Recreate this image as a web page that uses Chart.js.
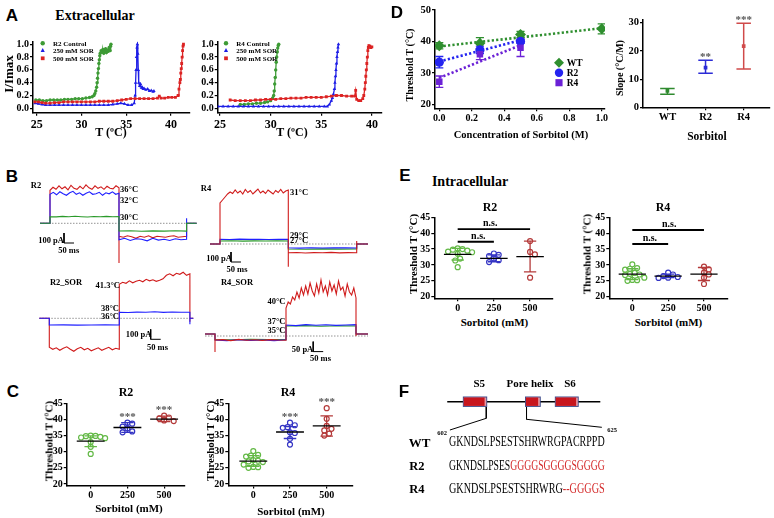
<!DOCTYPE html>
<html><head><meta charset="utf-8">
<script src="https://cdn.jsdelivr.net/npm/chart.js@4.4.1/dist/chart.umd.min.js"></script>
<style>
html,body{margin:0;padding:0;background:#fff;}
body{width:774px;height:518px;position:relative;overflow:hidden;}
canvas{position:absolute;}
.t{position:absolute;white-space:nowrap;color:#000;}
</style></head><body>
<script>
// ================= DATA =================
// Panel A – I/Imax vs T (°C)
const a1CtrlT = [24.9,25.3,25.7,26.1,26.5,26.9,27.3,27.7,28.1,28.5,28.9,29.3,29.7,30.1,30.5,30.9,31.2,31.4,31.5,31.6,31.7,31.75,31.8,31.85,31.9,31.95,32.0,32.05,32.1,32.2,32.3,32.4,32.5,32.6,32.7,32.8,32.9,33.0,33.1,33.2,33.25,33.3];
const a1CtrlI = [0.13,0.13,0.12,0.12,0.13,0.13,0.13,0.13,0.14,0.14,0.14,0.15,0.15,0.15,0.16,0.17,0.18,0.20,0.23,0.27,0.33,0.40,0.47,0.55,0.62,0.70,0.76,0.82,0.86,0.90,0.88,0.92,0.86,0.90,0.93,0.87,0.91,0.89,0.95,0.90,0.97,1.00];
const a1S250T = [24.8,25.2,25.6,26.0,26.5,27.0,27.5,28.0,28.5,29.0,29.5,30.0,30.5,31.0,31.5,32.0,32.5,33.0,33.5,34.0,34.4,34.8,35.2,35.6,35.9,36.0,36.05,36.1,36.15,36.2,36.25,36.3,36.35,36.4,36.5,36.6,36.7,36.8,36.9,37.0,37.2,37.4,37.6,37.8,38.0,38.1];
const a1S250I = [0.08,0.07,0.06,0.05,0.05,0.05,0.05,0.05,0.05,0.05,0.05,0.05,0.05,0.05,0.05,0.05,0.05,0.05,0.06,0.07,0.08,0.07,0.05,0.05,0.08,0.20,0.40,0.60,0.80,0.95,1.00,0.85,0.60,0.40,0.35,0.38,0.32,0.33,0.30,0.31,0.29,0.30,0.27,0.28,0.26,0.27];
const a1S500T = [24.8,25.2,25.6,26.0,26.5,27.0,27.5,28.0,28.5,29.0,29.5,30.0,30.5,31.0,31.5,32.0,32.5,33.0,33.5,34.0,34.5,35.0,35.5,36.0,36.5,37.0,37.5,38.0,38.5,38.7,38.9,39.3,39.7,40.1,40.5,40.8,40.9,41.0,41.05,41.1,41.15,41.2,41.25,41.3,41.35,41.4];
const a1S500I = [0.10,0.10,0.09,0.08,0.08,0.09,0.09,0.10,0.10,0.10,0.10,0.10,0.10,0.10,0.10,0.11,0.11,0.11,0.11,0.12,0.13,0.14,0.15,0.15,0.15,0.15,0.15,0.15,0.16,0.19,0.16,0.16,0.17,0.17,0.17,0.20,0.30,0.40,0.45,0.55,0.62,0.70,0.80,0.90,0.97,1.00];
const a2CtrlT = [27.0,27.4,27.8,28.2,28.6,29.0,29.4,29.7,30.0,30.2,30.3,30.35,30.4,30.45,30.5,30.55,30.6,30.65,30.7,30.75,30.8];
const a2CtrlI = [0.06,0.06,0.07,0.07,0.08,0.08,0.09,0.10,0.12,0.16,0.20,0.27,0.38,0.48,0.60,0.72,0.80,0.88,0.94,0.98,1.00];
const a2S250T = [24.8,25.3,25.8,26.3,26.8,27.3,27.8,28.3,28.8,29.3,29.8,30.3,30.8,31.3,31.8,32.3,32.8,33.3,33.8,34.3,34.8,35.3,35.6,35.8,36.0,36.1,36.2,36.3,36.35,36.4,36.45,36.5,36.55,36.6,36.65,36.7];
const a2S250I = [0.03,0.03,0.03,0.03,0.03,0.03,0.03,0.03,0.03,0.03,0.03,0.03,0.03,0.03,0.03,0.03,0.03,0.03,0.03,0.03,0.03,0.03,0.03,0.06,0.12,0.16,0.22,0.30,0.40,0.50,0.60,0.70,0.80,0.88,0.95,1.00];
const a2S500T = [26.0,26.5,27.0,27.5,28.0,28.5,29.0,29.5,30.0,30.5,31.0,31.5,32.0,32.5,33.0,33.5,34.0,34.5,35.0,35.5,36.0,36.5,37.0,37.5,38.0,38.3,38.4,38.5,38.7,38.9,39.1,39.2,39.3,39.35,39.4,39.45,39.5,39.55,39.6,39.65,39.7,39.8,39.9,40.0];
const a2S500I = [0.13,0.12,0.12,0.12,0.12,0.13,0.13,0.14,0.14,0.14,0.15,0.15,0.16,0.16,0.16,0.17,0.17,0.17,0.17,0.18,0.19,0.20,0.20,0.19,0.19,0.19,0.28,0.14,0.12,0.12,0.15,0.20,0.30,0.40,0.50,0.60,0.70,0.80,0.90,0.95,0.98,0.97,0.95,0.96];
const aLegendLeft = ['R2 Control','250 mM SOR','500 mM SOR'];
const aLegendRight = ['R4 Control','250 mM SOR','500 mM SOR'];
const aXTicks = [25,30,35,40];
const aYTicks = [0,0.2,0.4,0.6,0.8,1.0];

// Panel B – current traces (time ms, current pA); segments: pre, pulse 1, pulse 2, post
const bR2Edges = [-50,0,345,683,733];
const bR2Red = [[0,0],[330,360,340,375,345,365,335,380,350,340,370,345,385,355,340,375,350,365,340,370,350,345,375,355],[-130,-140,-125,-135,-150,-130,-140,-125,-145,-130,-135,-140,-130,-125,-140,-135,-130],[0,0]];
const bR2RedSpk = [null,null,-397,null];
const bR2Blue = [[0,0],[290,310,285,315,295,280,305,320,290,305,280,300,315,290,295,310,280,305,295,315,290,300],[-165,-150,-172,-155,-160,-175,-150,-168,-160,-172,-155,-165,-160],[0,0]];
const bR2BlueSpk = [null,null,null,50];
const bR2Green = [[0,0],[66,64,69,65,70,66,63,68,66,69,65,67],[-77,-75,-79,-76,-78,-75,-78],[0,0]];
const bR4Edges = [-50,0,341.5,683.5,740];
const bR4Red = [[0,0],[410,440,470,500,520,505,540,510,530,500,545,515,535,500,525,550,510,530,505,540,520,500,535,515,545,510,530,540],[-87,-85,-90,-86,-88,-84,-89,-86,-87],[0,0]];
const bR4RedSpk = [null,null,-227,30];
const bR4Blue = [[0,0],[47,45,49,46,48,45,48,46],[-38,-41,-37,-40,-39,-38,-40],[0,0]];
const bR4Green = [[0,0],[30,32,29,31,30,32,30],[-50,-52,-49,-51,-50],[0,0]];
const bR2sEdges = [-50,0,350,703,720];
const bR2sRed = [[0,0],[-290,-310,-295,-320,-300,-285,-310,-330,-305,-290,-315,-300,-325,-310,-295,-320,-305,-290,-315,-300,-310],[340,360,350,375,355,370,380,365,390,375,385,370,380,395,430,445,425,450,440,460,430,445],[0,0]];
const bR2sRedSpk = [null,null,null,-34];
const bR2sBlue = [[0,0],[-67,-66,-68,-67,-66,-67],[60,58,62,60,65,59,63,61,60],[0,0]];
const bR2sBlueSpk = [null,null,null,-60];
const bR4sEdges = [-50,0,355,705,765];
const bR4sRed = [[0,0],[-30,-28,-33,-27,-31,-29,-32,-28,-30,-31],[130,160,150,185,170,210,180,230,195,240,200,255,215,190,250,205,270,210,240,195,260,215,245,200,265,220,235,190,250,210,195,230,180],[0,0]];
const bR4sRedSpk = [null,-90,null,-10];
const bR4sBlue = [[0,0],[-30,-33,-29,-32,-30,-33,-29],[45,42,47,44,46,43,45,47],[0,0]];
const bR4sGreen = [[0,0],[-28,-29,-27,-28,-28],[40,42,39,41,40],[0,0]];

// Panel C – extracellular threshold T (°C)
const sorbCats = ['0','250','500'];
const cR2_0 = [35.0,34.8,34.6,34.4,34.9,34.2,33.0,31.5,29.3];
const cR2_250 = [39.0,38.7,37.8,37.2,36.3,36.0];
const cR2_500 = [41.2,40.6,40.3,39.7,39.5];
const cR2Mean = [33.3,37.5,40.1], cR2Lo = [31.6,36.0,39.3], cR2Hi = [34.9,39.0,41.0];
const cR4_0 = [30.2,29.0,28.8,28.5,27.4,27.2,27.0,26.8,26.0,25.3,25.0,25.2];
const cR4_250 = [39.0,38.2,37.6,37.4,36.0,35.8,34.0,32.2];
const cR4_500 = [43.5,40.2,38.0,37.1,36.6,35.6,35.0];
const cR4Mean = [27.1,36.1,38.0], cR4Lo = [25.5,34.1,34.8], cR4Hi = [28.8,37.8,41.1];
const cStars = ['','***','***'];
const thrTicks = [20,25,30,35,40,45];

// Panel D – threshold vs sorbitol concentration, slopes
const dConc = [0,0.25,0.5,1.0];
const dWT = [38.6,39.4,42.2,44.0], dWTErr = [1.0,1.8,1.0,1.6];
const dR2 = [33.4,37.3,40.0], dR2Err = [1.8,1.2,0.6];
const dR4 = [27.2,35.9,38.0], dR4Err = [1.8,1.7,2.8];
const dFitIntercept = [38.4,33.6,28.4], dFitSlope = [5.8,13.6,20.8], dFitEnd = [1.0,0.5,0.5];
const dLegend = ['WT','R2','R4'];
const dXTicks = [0,0.2,0.4,0.6,0.8,1.0], dYTicks = [20,30,40,50];
const slopeCats = ['WT','R2','R4'];
const slopeMean = [5.8,14.1,21.7], slopeLo = [4.6,12.1,13.6], slopeHi = [6.7,16.7,29.8];
const slopeStars = ['','**','***'];
const slopeTicks = [0,10,20,30];

// Panel E – intracellular threshold T (°C)
const eR2_0 = [35.2,35.0,34.8,34.5,34.2,34.0,33.5,32.0,31.4,29.3];
const eR2_250 = [33.6,33.2,32.8,32.0,31.5,30.9];
const eR2_500 = [37.5,34.1,33.3,26.0];
const eR2Mean = [33.35,32.1,32.6], eR2Lo = [31.55,31.0,27.8], eR2Hi = [35.2,33.2,37.5];
const eR4_0 = [30.2,29.0,28.8,28.5,27.5,27.2,27.0,26.8,26.0,25.3,25.0,25.2];
const eR4_250 = [27.6,27.0,26.5,26.2,25.9,26.0];
const eR4_500 = [29.5,28.6,27.6,27.0,26.0,24.0];
const eR4Mean = [27.1,26.5,27.1], eR4Lo = [25.4,26.0,25.1], eR4Hi = [28.8,27.1,29.2];
// n.s. comparisons: [from group, to group, bar level]
const eR2Ns = [[0,2,41.3],[0,1,37.3]];
const eR4Ns = [[0,2,41.0],[0,1,36.6]];

// Panel F – schematic (arbitrary units along sequence)
const fBackbone = [0,100];
const fDomains = [[10.8,25.5],[51.4,60.5],[70.9,85.3]];
const fDomainNames = ['S5','Pore helix','S6'];
const fLink1U = [25.5,25.5,1.75], fLink1V = [5.3,16.6,28.3];
const fLink2U = [51.8,51.8,101], fLink2V = [5.3,17.6,25.6];
const seqWT = [['GKNDSLPSESTSHRWRGPACRPPD','#000']];
const seqR2 = [['GKNDSLPSES','#000'],['GGGGSGGGGSGGGG','#d42a2a']];
const seqR4 = [['GKNDSLPSESTSHRWRG','#000'],['--GGGGS','#d42a2a']];

// ================= HELPERS =================
const SERIF = "'Liberation Serif','Times New Roman',serif";
const SANS = "'Liberation Sans',Arial,sans-serif";
Chart.defaults.animation = false;
Chart.defaults.font.family = SERIF;
Chart.defaults.font.weight = 'bold';
Chart.defaults.color = '#000';
Chart.defaults.events = [];

const zip = (xs, ys) => xs.slice(0, Math.min(xs.length, ys.length)).map((x, i) => ({x, y: ys[i]}));

function marker(ctx, style, x, y, r, color){
  ctx.fillStyle = color; ctx.beginPath();
  if (style === 'circle') ctx.arc(x, y, r, 0, Math.PI*2);
  else if (style === 'triangle'){ ctx.moveTo(x, y-r); ctx.lineTo(x+r*0.95, y+r*0.75); ctx.lineTo(x-r*0.95, y+r*0.75); ctx.closePath(); }
  else if (style === 'rect') ctx.rect(x-r*0.85, y-r*0.85, r*1.7, r*1.7);
  else { ctx.moveTo(x, y-r); ctx.lineTo(x+r, y); ctx.lineTo(x, y+r); ctx.lineTo(x-r, y); ctx.closePath(); }
  ctx.fill();
}
const legendPlugin = { id:'mleg', afterDraw(chart, args, o){
  if (!o || !o.items) return;
  const ctx = chart.ctx, ox = parseFloat(chart.canvas.style.left), oy = parseFloat(chart.canvas.style.top);
  ctx.save();
  o.items.forEach(it => {
    marker(ctx, it.style, it.mx-ox, it.y-oy, it.r, it.color);
    ctx.font = o.font; ctx.fillStyle = '#000'; ctx.textAlign = 'left'; ctx.textBaseline = 'middle';
    ctx.fillText(it.text, it.tx-ox, it.y-oy+0.5);
  });
  ctx.restore();
}};
const txtPlugin = { id:'txt', afterDatasetsDraw(chart, args, o){
  if (!o || !o.items) return;
  const ctx = chart.ctx; ctx.save();
  o.items.forEach(it => {
    ctx.font = it.font; ctx.fillStyle = it.color || '#000'; ctx.textAlign = 'center'; ctx.textBaseline = 'middle';
    ctx.fillText(it.text, chart.scales.x.getPixelForValue(it.x), chart.scales.y.getPixelForValue(it.y) + (it.dy||0));
  });
  ctx.restore();
}};
Chart.register(legendPlugin, txtPlugin);

function txt(s, x, y, o = {}){
  const d = document.createElement('div'); d.className = 't'; d.textContent = s;
  d.style.font = `${o.bold === false ? '' : 'bold '}${o.size || 11}px ${o.fam || SERIF}`;
  d.style.lineHeight = '1';
  d.style.left = x + 'px'; d.style.top = y + 'px';
  const ax = {c:'-50%', l:'0%', r:'-100%'}[o.a || 'c'];
  d.style.transform = `translate(${ax},-50%)` + (o.rot ? ` rotate(${o.rot}deg)` : '');
  if (o.color) d.style.color = o.color;
  document.body.appendChild(d);
}
function seq(x, y, w, parts, size){
  const d = document.createElement('div'); d.className = 't';
  d.style.font = `${size}px ${SERIF}`; d.style.lineHeight = '1';
  parts.forEach(([s, c]) => { const sp = document.createElement('span'); sp.textContent = s; sp.style.color = c; d.appendChild(sp); });
  d.style.left = x + 'px'; d.style.top = y + 'px';
  document.body.appendChild(d);
  const nat = d.getBoundingClientRect().width;
  d.style.transformOrigin = '0 0';
  d.style.transform = `translateY(-50%) scaleX(${w / nat})`;
}

function axis(pos, min, max, ticks, o = {}){
  return {
    type:'linear', position:pos, min, max, display: o.display !== false, reverse: !!o.reverse,
    afterBuildTicks: s => { s.ticks = ticks.map(v => ({value:v})); },
    grid:{display:true, drawOnChartArea:false, drawTicks:true, tickLength:o.tl || 3, color:'#000', lineWidth:1.2},
    border:{display:true, color:'#000', width:1.5},
    ticks:{color:'#000', font:{family:SERIF, weight:'bold', size:o.font || 10}, padding:o.pad == null ? 1 : o.pad, autoSkip:false, maxRotation:0, callback: o.cb || (v => v)}
  };
}
function makeChart(box, m, xAx, yAx, datasets, plugins = {}){
  const left = Math.floor(box.x - m.l), top = Math.floor(box.y - m.t);
  const right = Math.ceil(box.x + box.w + m.r), bottom = Math.ceil(box.y + box.h + m.b);
  const W = right - left, H = bottom - top;
  const L = box.x - left, T = box.y - top, R = right - (box.x + box.w), B = bottom - (box.y + box.h);
  const c = document.createElement('canvas'); c.width = W; c.height = H;
  Object.assign(c.style, {left:left+'px', top:top+'px', width:W+'px', height:H+'px'});
  document.body.appendChild(c);
  const hidden = xAx.display === false;
  xAx.afterFit = s => { s.height = B; };
  yAx.afterFit = s => { s.width = L; };
  return new Chart(c, {
    type:'scatter', data:{datasets},
    options:{responsive:false, animation:false, devicePixelRatio:1,
      layout:{padding: hidden ? {left:L, top:T, right:R, bottom:B} : {left:0, top:T, right:R, bottom:0}},
      scales:{x:xAx, y:yAx},
      plugins:Object.assign({legend:{display:false}, tooltip:{enabled:false}}, plugins)}
  });
}
const lineDs = (data, color, w, order = 0, dash) => ({data, showLine:true, borderColor:color, borderWidth:w, pointRadius:0, order, borderDash:dash || [], spanGaps:false});

// ================= PANEL A =================
const aCol = ['#3d9b35','#1e1ee6','#dc2323'];
function aChart(box, m, xr, sets, legend, legX){
  const styles = ['circle','triangle','rect'];
  const ds = sets.map((s, i) => ({data:s, showLine:true, borderColor:aCol[i], borderWidth:1.3, backgroundColor:aCol[i],
    pointStyle:styles[i], pointRadius:i === 0 ? 1.7 : 2.0, pointBorderWidth:0, order:2-i}));
  makeChart(box, m,
    axis('bottom', xr[0], xr[1], aXTicks, {font:12, tl:3, pad:1.5}),
    axis('left', -0.07, 1.04, aYTicks, {font:10, cb:v => v.toFixed(1)}),
    ds,
    {mleg:{font:`bold 7px ${SERIF}`, items:legend.map((t, i) => ({text:t, style:styles[i], color:aCol[i], r:2.2, mx:legX, tx:legX+10.3, y:[43.3,50.3,58.3][i]}))}});
}
aChart({x:33, y:41.7, w:157, h:71.1}, {l:33, t:10, r:8, b:20}, [24.59, 42.13],
  [zip(a1CtrlT, a1CtrlI), zip(a1S250T, a1S250I), zip(a1S500T, a1S500I)], aLegendLeft, 42.7);
aChart({x:217.7, y:41.7, w:164.3, h:71.1}, {l:28, t:10, r:8, b:20}, [24.77, 41.0],
  [zip(a2CtrlT, a2CtrlI), zip(a2S250T, a2S250I), zip(a2S500T, a2S500I)], aLegendRight, 226);

// ================= PANEL B =================
function trace(edges, segs, spikes){
  const pts = [];
  segs.forEach((vals, k) => {
    const a = edges[k], b = edges[k+1];
    if (spikes && spikes[k] != null) pts.push({x:a, y:spikes[k]});
    const n = vals.length;
    vals.forEach((v, j) => pts.push({x: n > 1 ? a + (b - a) * j / (n - 1) : a, y: v}));
  });
  return pts;
}
const bCol = {red:'#d01c1c', blue:'#1f1fff', green:'#2a9a2a'};
function bChart(box, t0px, basePx, pApp, edges, series, dotted, bar){
  const xr = [(box.x - t0px) * 5, (box.x + box.w - t0px) * 5];
  const yr = [(basePx - (box.y + box.h)) * pApp, (basePx - box.y) * pApp];
  const ds = series.map(s => lineDs(trace(edges, s.segs, s.spk), bCol[s.c], 1.1, s.o));
  ds.push(lineDs([{x:edges[0], y:dotted}, {x:edges[edges.length-1], y:dotted}], '#888', 0.9, 9, [1.5, 1.5]));
  ds.push(lineDs([{x:bar.t, y:bar.i + bar.di}, {x:bar.t, y:bar.i}, {x:bar.t + bar.dt, y:bar.i}], '#000', 1, 0));
  makeChart(box, {l:0, t:0, r:0, b:0},
    axis('bottom', xr[0], xr[1], [], {display:false}),
    axis('left', yr[0], yr[1], [], {display:false}), ds);
}
bChart({x:36, y:178, w:164, h:90}, 50, 223.3, 10, bR2Edges,
  [{segs:bR2Red, spk:bR2RedSpk, c:'red', o:2}, {segs:bR2Blue, spk:bR2BlueSpk, c:'blue', o:1}, {segs:bR2Green, c:'green', o:0}],
  0, {t:70, i:-197, dt:50, di:100});
bChart({x:205, y:182, w:167, h:90}, 220, 244, 10, bR4Edges,
  [{segs:bR4Red, spk:bR4RedSpk, c:'red', o:0}, {segs:bR4Green, c:'green', o:2}, {segs:bR4Blue, c:'blue', o:1}],
  0, {t:55, i:-180, dt:50, di:100});
bChart({x:36, y:268, w:164, h:84}, 49.3, 318.3, 10, bR2sEdges,
  [{segs:bR2sRed, spk:bR2sRedSpk, c:'red', o:1}, {segs:bR2sBlue, spk:bR2sBlueSpk, c:'blue', o:0}],
  0, {t:507, i:-210, dt:50, di:100});
bChart({x:202, y:270, w:172, h:92}, 215, 334, 5, bR4sEdges,
  [{segs:bR4sRed, spk:bR4sRedSpk, c:'red', o:0}, {segs:bR4sGreen, c:'green', o:2}, {segs:bR4sBlue, c:'blue', o:1}],
  -10, {t:491, i:-88, dt:50, di:50});

// ================= PANELS C & E =================
const gCol = ['#63b946','#3434c4','#b43a3a'];
function swarm(vals, cx, xppu, yppu, d){
  const placed = [], out = [];
  [...vals].sort((a, b) => b - a).forEach(v => {
    const py = v * yppu; let off = 0;
    for (let n = 0; n < 80; n++){
      const cand = n === 0 ? 0 : (n % 2 ? 1 : -1) * Math.ceil(n / 2) * d * 0.5;
      if (placed.every(p => Math.hypot(p.px - cand, p.py - py) >= d)){ off = cand; break; }
    }
    placed.push({px:off, py}); out.push({x: cx + off / xppu, y: v});
  });
  return out;
}
function groupChart(box, m, xr, groups, mean, lo, hi, stars, ns){
  const yr = [19.5, 45];
  const xppu = box.w / (xr[1] - xr[0]), yppu = box.h / (yr[1] - yr[0]);
  const ds = [];
  groups.forEach((vals, i) => ds.push({data:swarm(vals, i, xppu, yppu, 4.8), showLine:false, pointStyle:'circle',
    pointRadius:2.5, borderWidth:1.2, pointBorderWidth:1.2, borderColor:gCol[i], backgroundColor:'#fff', order:3}));
  groups.forEach((v, i) => {
    const c = 0.17;
    ds.push(lineDs([{x:i, y:lo[i]}, {x:i, y:hi[i]}, {x:i, y:null}, {x:i-c, y:lo[i]}, {x:i+c, y:lo[i]}, {x:i, y:null},
      {x:i-c, y:hi[i]}, {x:i+c, y:hi[i]}], gCol[i], 1.3, 1));
    ds.push(lineDs([{x:i-0.38, y:mean[i]}, {x:i+0.38, y:mean[i]}], '#000', 1.3, 0));
  });
  const items = [];
  if (stars) stars.forEach((s, i) => { if (s) items.push({text:s, x:i, y:Math.max(...groups[i]) + 2.7, dy:3, font:`bold 11px ${SERIF}`, color:'#555'}); });
  if (ns) ns.forEach(([a, b, y], k) => {
    ds.push(lineDs([{x:a, y}, {x:b, y}], '#000', 1.8, 0));
    items.push({text:'n.s.', x:ns.textX[k], y:y + 1.8, font:`bold 10px ${SERIF}`});
  });
  makeChart(box, m,
    axis('bottom', xr[0], xr[1], [0,1,2], {font:10, cb:v => sorbCats[v]}),
    axis('left', yr[0], yr[1], thrTicks, {font:10}), ds, {txt:{items}});
}
groupChart({x:66.7, y:403.3, w:118.3, h:82.3}, {l:24, t:10, r:6, b:16}, [-0.654, 2.569],
  [cR2_0, cR2_250, cR2_500], cR2Mean, cR2Lo, cR2Hi, cStars);
groupChart({x:228.3, y:403.3, w:124.7, h:82.3}, {l:24, t:10, r:6, b:16}, [-0.681, 2.717],
  [cR4_0, cR4_250, cR4_500], cR4Mean, cR4Lo, cR4Hi, cStars);
eR2Ns.textX = [0.9, 0.57];
eR4Ns.textX = [1.03, 0.49];
groupChart({x:434.3, y:217.3, w:118.7, h:81}, {l:24, t:10, r:6, b:16}, [-0.646, 2.633],
  [eR2_0, eR2_250, eR2_500], eR2Mean, eR2Lo, eR2Hi, null, eR2Ns);
groupChart({x:609.3, y:217.3, w:118.7, h:81}, {l:24, t:10, r:6, b:16}, [-0.642, 2.67],
  [eR4_0, eR4_250, eR4_500], eR4Mean, eR4Lo, eR4Hi, null, eR4Ns);

// ================= PANEL D =================
(function(){
  const col = ['#2f8f2f','#2424f0','#6b21d6'];
  const styles = ['rectRot','circle','rect'];
  const series = [dWT, dR2, dR4], errs = [dWTErr, dR2Err, dR4Err];
  const ds = [];
  series.forEach((ys, k) => {
    const e = dFitEnd[k];
    ds.push(lineDs([{x:0, y:dFitIntercept[k]}, {x:e, y:dFitIntercept[k] + dFitSlope[k] * e}], col[k], 2.6, 3, [2.2, 2.2]));
    const eb = [];
    ys.forEach((y, i) => {
      const x = dConc[i], c = 0.025;
      eb.push({x, y:y-errs[k][i]}, {x, y:y+errs[k][i]}, {x, y:null}, {x:x-c, y:y-errs[k][i]}, {x:x+c, y:y-errs[k][i]}, {x, y:null},
        {x:x-c, y:y+errs[k][i]}, {x:x+c, y:y+errs[k][i]}, {x, y:null});
    });
    ds.push(lineDs(eb, col[k], 1.3, 2));
    ds.push({data:zip(dConc, ys), showLine:false, pointStyle:styles[k], pointRadius:k === 0 ? 5.5 : 4.6,
      backgroundColor:col[k], borderColor:col[k], pointBorderWidth:0, order:1 - k * 0.1});
  });
  makeChart({x:435, y:10, w:170, h:98.3}, {l:26, t:8, r:10, b:18},
    axis('bottom', -0.0264, 1.02, dXTicks, {font:10, cb:v => v.toFixed(1)}),
    axis('left', 18.72, 50, dYTicks, {font:10.5}), ds,
    {mleg:{font:`bold 9.5px ${SERIF}`, items:dLegend.map((t, i) => ({text:t, style:styles[i], color:col[i], r:i === 0 ? 5 : 4.2, mx:559, tx:566.7, y:[62.7,72.7,82.7][i]}))}});

  const col2 = ['#2f8a2f','#2b2bd6','#d04a4a'];
  const ds2 = [], items = [];
  slopeMean.forEach((mv, i) => {
    const c = 0.19;
    ds2.push(lineDs([{x:i, y:slopeLo[i]}, {x:i, y:slopeHi[i]}, {x:i, y:null}, {x:i-c, y:slopeLo[i]}, {x:i+c, y:slopeLo[i]}, {x:i, y:null},
      {x:i-c, y:slopeHi[i]}, {x:i+c, y:slopeHi[i]}], col2[i], 1.5, 1));
    ds2.push({data:[{x:i, y:mv}], showLine:false, pointStyle:'rect', pointRadius:2.6, backgroundColor:col2[i], borderColor:col2[i], pointBorderWidth:0, order:0});
    if (slopeStars[i]) items.push({text:slopeStars[i], x:i, y:slopeHi[i] + 2.3, dy:3, font:`bold 11px ${SERIF}`, color:'#555'});
  });
  makeChart({x:643, y:19.9, w:130, h:87.4}, {l:26, t:8, r:1, b:18},
    axis('bottom', -0.64, 2.69, [0,1,2], {font:10.5, cb:v => slopeCats[v]}),
    axis('left', 0, 31, slopeTicks, {font:10.5}), ds2, {txt:{items}});
})();

// ================= PANEL F =================
(function(){
  const ds = [];
  ds.push(lineDs(zip(fLink1U, fLink1V), '#000', 1, 3));
  ds.push(lineDs(zip(fLink2U, fLink2V), '#000', 1, 3));
  fDomains.forEach(([a, b]) => {
    ds.push(Object.assign(lineDs([{x:a, y:0}, {x:b - 1.1, y:0}], '#c8161d', 8.4, 0), {borderCapStyle:'butt'}));
    ds.push(Object.assign(lineDs([{x:a, y:0}, {x:b, y:0}], '#e79aa4', 8.4, 0.5), {borderCapStyle:'butt'}));
    ds.push(Object.assign(lineDs([{x:a - 0.6, y:0}, {x:b + 0.6, y:0}], '#3d4a8a', 10.4, 1), {borderCapStyle:'butt'}));
  });
  ds.push(lineDs([{x:fBackbone[0], y:0}, {x:fBackbone[1], y:0}], '#000', 1.6, 2));
  makeChart({x:440, y:380, w:175, h:56}, {l:0, t:0, r:0, b:0},
    axis('bottom', -4.73, 109.6, [], {display:false}),
    axis('left', -21.7, 34.3, [], {display:false, reverse:true}), ds);
})();

// ================= TEXT =================
const L = (s, x, y) => txt(s, x, y, {size:17, fam:SANS});
L('A', 12, 15); L('B', 12, 176); L('C', 13, 391); L('D', 397, 12); L('E', 405, 175); L('F', 404, 391);
// A
txt('Extracellular', 95, 16, {size:14});
txt('I/Imax', 8, 74, {size:13, rot:-90});
txt('T (ºC)', 111, 132, {size:12});
txt('T (ºC)', 292, 132, {size:12});
// B
const bs = 8.5;
txt('R2', 36, 185, {size:bs});
txt('36°C', 120, 189, {size:bs, a:'l'}); txt('32°C', 120, 200, {size:bs, a:'l'}); txt('30°C', 120, 217, {size:bs, a:'l'});
txt('100 pA', 51, 239.5, {size:bs}); txt('50 ms', 68.7, 249.5, {size:bs});
txt('R4', 206, 188, {size:bs});
txt('31°C', 290, 192, {size:bs, a:'l'}); txt('29°C', 290, 234.5, {size:bs, a:'l'}); txt('27°C', 290, 240, {size:bs, a:'l'});
txt('100 pA', 219, 258.3, {size:bs}); txt('50 ms', 237, 269.3, {size:bs});
txt('R2_SOR', 66, 282.3, {size:bs});
txt('41.3°C', 120, 285, {size:bs, a:'r'}); txt('38°C', 119, 307.7, {size:bs, a:'r'}); txt('36°C', 119, 315.7, {size:bs, a:'r'});
txt('100 pA', 138.5, 334.3, {size:bs}); txt('50 ms', 157.5, 346.7, {size:bs});
txt('R4_SOR', 237, 282.3, {size:bs});
txt('40°C', 285.5, 301, {size:bs, a:'r'}); txt('37°C', 285.5, 321, {size:bs, a:'r'}); txt('35°C', 285.5, 330, {size:bs, a:'r'});
txt('50 pA', 302.5, 349.3, {size:bs}); txt('50 ms', 320.5, 358.3, {size:bs});
// C
txt('R2', 126, 392, {size:12}); txt('R4', 288, 392, {size:12});
txt('Threshold T (°C)', 48.5, 441, {size:11, rot:-90}); txt('Threshold T (°C)', 210, 441, {size:11, rot:-90});
txt('Sorbitol (mM)', 129, 508, {size:11}); txt('Sorbitol (mM)', 291, 511, {size:11});
// D
txt('Threshold T (°C)', 410, 65, {size:10, rot:-90});
txt('Concentration of Sorbitol (M)', 521, 135, {size:10.5});
txt('Slope (°C/M)', 620, 68, {size:10, rot:-90});
txt('Sorbitol', 707, 137, {size:11.5});
// E
txt('Intracellular', 470, 182, {size:14});
txt('R2', 490, 207, {size:12}); txt('R4', 663, 207, {size:12});
txt('Threshold T (°C)', 413, 254, {size:11, rot:-90}); txt('Threshold T (°C)', 587, 254, {size:11, rot:-90});
txt('Sorbitol (mM)', 494.5, 322, {size:11}); txt('Sorbitol (mM)', 668.5, 322, {size:11});
// F
txt(fDomainNames[0], 479.3, 383.3, {size:11}); txt(fDomainNames[1], 530, 383.3, {size:11}); txt(fDomainNames[2], 570, 383.3, {size:11});
txt('602', 442, 433, {size:6.5}); txt('625', 612, 430, {size:6.5});
txt('WT', 419.7, 441.7, {size:13}); txt('R2', 416.8, 465.8, {size:12.5}); txt('R4', 416.8, 488.7, {size:12.5});
seq(449.3, 441.7, 155.7, seqWT, 14);
seq(449.3, 465.8, 155.7, seqR2, 14);
seq(449.3, 488.7, 155.7, seqR4, 14);
</script>
</body></html>
